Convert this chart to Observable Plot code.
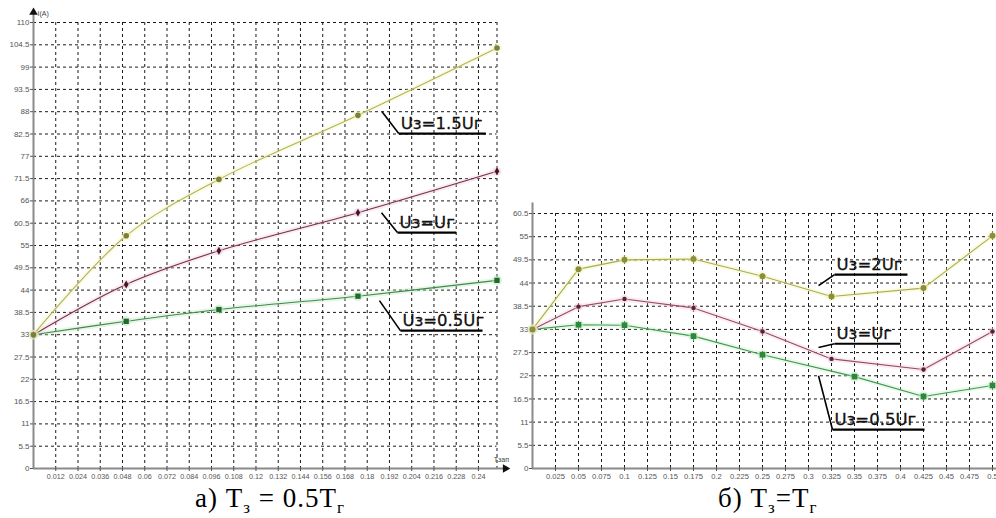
<!DOCTYPE html>
<html><head><meta charset="utf-8">
<script src="https://cdn.jsdelivr.net/npm/d3@7"></script>
<script src="https://cdn.jsdelivr.net/npm/@observablehq/plot@0.6"></script>
<style>
body{margin:0;background:#fff;}
#wrap{position:relative;width:996px;height:518px;overflow:hidden;background:#fff;}
#a,#b{position:absolute;top:0;}
#a{left:0}
#b{left:500px}
.cap{position:absolute;top:486px;font-family:"Liberation Serif","Times New Roman",serif;font-size:27px;letter-spacing:1px;color:#000;white-space:nowrap;line-height:24px;height:24px}
.cap span.s{font-size:17px;position:relative;top:6px;line-height:0}
#capA{left:195px}
#capB{left:718px}
</style></head><body>
<div id="wrap">
<div id="a"></div><div id="b"></div>
<div class="cap" id="capA">а) T<span class="s">з</span> = 0.5T<span class="s">г</span></div>
<div class="cap" id="capB">б) T<span class="s">з</span>=T<span class="s">г</span></div>
</div>
<script>
// ---------- chart a) : Tз = 0.5Tг ----------
const tA = [0, 0.05, 0.1, 0.175, 0.25];
const iA_15 = [33, 57.4, 71.3, 87.1, 103.7];
const iA_10 = [33, 45.4, 53.7, 63.1, 73.3];
const iA_05 = [33, 36.3, 39.2, 42.5, 46.4];
const xTicksA = [0.012,0.024,0.036,0.048,0.06,0.072,0.084,0.096,0.108,0.12,0.132,0.144,0.156,0.168,0.18,0.192,0.204,0.216,0.228,0.24];
const yTicksA = [0,5.5,11,16.5,22,27.5,33,38.5,44,49.5,55,60.5,66,71.5,77,82.5,88,93.5,99,104.5,110];
const namesA = ["Uз=1.5Uг", "Uз=Uг", "Uз=0.5Uг"];

// ---------- chart б) : Tз = Tг ----------
const tB = [0, 0.05, 0.1, 0.175, 0.25, 0.325, 0.425, 0.5];
const iB_20 = [33, 47.3, 49.5, 49.7, 45.6, 40.8, 42.8, 55.2];
const iB_10 = [33, 38.4, 40.2, 38.1, 32.5, 26.0, 23.5, 32.5];
const tB05 = [0, 0.05, 0.1, 0.175, 0.25, 0.35, 0.425, 0.5];
const iB_05 = [33, 34.1, 34.0, 31.4, 27.0, 21.8, 17.1, 19.7];
const xTicksB = [0.025,0.05,0.075,0.1,0.125,0.15,0.175,0.2,0.225,0.25,0.275,0.3,0.325,0.35,0.375,0.4,0.425,0.45,0.475,0.5];
const yTicksB = [0,5.5,11,16.5,22,27.5,33,38.5,44,49.5,55,60.5];
const namesB = ["Uз=2Uг", "Uз=Uг", "Uз=0.5Uг"];

// annotation anchors (data units): leader start, underline start/end
const notesA = [
  {label: namesA[0], x1: 0.188, y1: 88.0, x2: 0.197, y2: 82.6, x3: 0.244},
  {label: namesA[1], x1: 0.1877, y1: 63.1, x2: 0.1963, y2: 58.2, x3: 0.228},
  {label: namesA[2], x1: 0.1866, y1: 41.4, x2: 0.1979, y2: 34.0, x3: 0.2422}
];
const notesB = [
  {label: namesB[0], x1: 0.3109, y1: 43.4, x2: 0.3283, y2: 46.0, x3: 0.4076},
  {label: namesB[1], x1: 0.3109, y1: 28.7, x2: 0.3283, y2: 29.6, x3: 0.400},
  {label: namesB[2], x1: 0.3109, y1: 22.0, x2: 0.3261, y2: 9.2, x3: 0.4261}
];

const zip = (xs, ys) => xs.map((x, i) => ({x, y: ys[i]}));
const tickFont = "'Liberation Sans',Arial,sans-serif";
const noteFont = "'DejaVu Sans',Verdana,sans-serif";

function notesMarks(notes, fs) {
  return [
    Plot.link(notes, {x1: "x1", y1: "y1", x2: "x2", y2: "y2", stroke: "#000", strokeWidth: 1.6}),
    Plot.link(notes, {x1: "x2", y1: "y2", x2: "x3", y2: "y2", stroke: "#000", strokeWidth: 2.2}),
    Plot.text(notes, {x: "x2", y: "y2", text: "label", dx: 2, dy: -10, textAnchor: "start", lineAnchor: "middle",
      fontSize: fs, fontFamily: noteFont, fill: "#111", stroke: "#111", strokeWidth: 0.3})
  ];
}

function seriesMarks(data, color, halo, dotColor, symbol, r, curve) {
  return [
    Plot.line(data, {x: "x", y: "y", stroke: halo, strokeWidth: 5, strokeOpacity: 0.35, curve}),
    Plot.line(data, {x: "x", y: "y", stroke: color, strokeWidth: 1.1, curve}),
    Plot.dot(data, {x: "x", y: "y", r: r + 2, fill: halo, fillOpacity: 0.5, symbol: "circle"}),
    Plot.dot(data, {x: "x", y: "y", r, fill: dotColor, symbol})
  ];
}

const plotA = Plot.plot({
  width: 520, height: 518,
  marginLeft: 33, marginRight: 23.5, marginTop: 22, marginBottom: 50,
  x: {domain: [0, 0.25]},
  y: {domain: [0, 110]},
  style: {color: "#555", background: "transparent", overflow: "visible"},
  marks: [
    Plot.gridX([...xTicksA, 0.25], {stroke: "#000", strokeOpacity: 0.9, strokeDasharray: "3,3"}),
    Plot.gridY(yTicksA.slice(1), {stroke: "#000", strokeOpacity: 0.9, strokeDasharray: "3,3"}),
    Plot.ruleX([0], {y1: 0, y2: 112.5, stroke: "#8a8a8a", strokeWidth: 2}),
    Plot.ruleY([0], {x1: 0, x2: 0.2545, stroke: "#8a8a8a", strokeWidth: 2}),
    Plot.dot([{x: 0, y: 112.5}], {x: "x", y: "y", symbol: "triangle", r: 3.2, fill: "#111"}),
    Plot.dot([{x: 0.2545, y: 0}], {x: "x", y: "y", symbol: "triangle", r: 3.2, fill: "#111", rotate: 90}),
    Plot.text(["I(A)"], {x: 0, y: 112.5, dx: 4, dy: 1, text: d => d, textAnchor: "start", fontSize: 7, fontFamily: tickFont, fill: "#444"}),
    Plot.text(["Тзап"], {x: 0.2545, y: 0, dx: -4, dy: -9, text: d => d, textAnchor: "middle", fontSize: 7, fontFamily: tickFont, fill: "#444"}),
    Plot.axisX(xTicksA, {tickSize: 3, tickPadding: 2, fontSize: 7.2, fontFamily: tickFont, tickFormat: d => String(d), label: null}),
    Plot.axisY(yTicksA, {tickSize: 3, tickPadding: 1, fontSize: 8, fontFamily: tickFont, tickFormat: d => String(d), label: null}),
    ...seriesMarks(zip(tA, iA_05), "#3d8c48", "#bfe3c0", "#1f6b2e", "square", 3, "catmull-rom"),
    ...seriesMarks(zip(tA, iA_10), "#7a2c4c", "#e8c9d6", "#4a1228", "diamond", 2.4, "catmull-rom"),
    ...seriesMarks(zip(tA, iA_15), "#b0b35a", "#f3f3b8", "#7d7e3c", "circle", 2.8, "catmull-rom"),
    ...notesMarks(notesA, 16.5)
  ]
});
document.getElementById("a").appendChild(plotA);

const plotB = Plot.plot({
  width: 496, height: 518,
  marginLeft: 32, marginRight: 4, marginTop: 213, marginBottom: 50,
  x: {domain: [0, 0.5]},
  y: {domain: [0, 60.5]},
  style: {color: "#555", background: "transparent", overflow: "visible"},
  marks: [
    Plot.gridX(xTicksB, {stroke: "#000", strokeOpacity: 0.9, strokeDasharray: "3,3"}),
    Plot.gridY(yTicksB.slice(1), {stroke: "#000", strokeOpacity: 0.9, strokeDasharray: "3,3"}),
    Plot.ruleX([0], {y1: 0, y2: 63, stroke: "#8a8a8a", strokeWidth: 2}),
    Plot.ruleY([0], {x1: 0, x2: 0.51, stroke: "#8a8a8a", strokeWidth: 2}),
    Plot.axisX(xTicksB, {tickSize: 3, tickPadding: 2, fontSize: 7.6, fontFamily: tickFont, tickFormat: d => String(d), label: null}),
    Plot.axisY(yTicksB, {tickSize: 3, tickPadding: 1, fontSize: 8, fontFamily: tickFont, tickFormat: d => String(d), label: null}),
    ...seriesMarks(zip(tB05, iB_05), "#3f9a4c", "#c6ecc8", "#2a8a3a", "square", 3.2, "linear"),
    ...seriesMarks(zip(tB, iB_10), "#9a4868", "#f0cfdc", "#5a2036", "circle", 2.2, "linear"),
    ...seriesMarks(zip(tB, iB_20), "#a8ad50", "#f4f4b4", "#8a8e3e", "circle", 3, "linear"),
    ...notesMarks(notesB, 16.5)
  ]
});
document.getElementById("b").appendChild(plotB);
</script>
</body></html>
